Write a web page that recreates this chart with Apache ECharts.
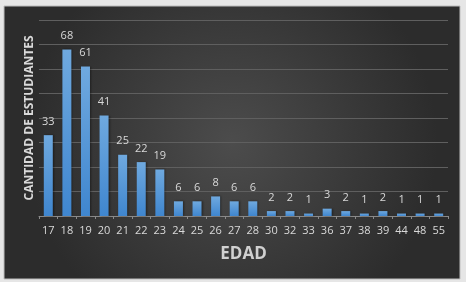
<!DOCTYPE html>
<html>
<head>
<meta charset="utf-8">
<script src="https://cdn.jsdelivr.net/npm/echarts@6/dist/echarts.min.js"></script>
<style>
  html, body { margin: 0; padding: 0; background: #e6e6e6; }
  #chart { width: 466px; height: 282px; }
</style>
</head>
<body>
<div id="chart"></div>
<script>
// edades y cantidad de estudiantes
const ages = ['17', '18', '19', '20', '21', '22', '23', '24', '25', '26', '27', '28', '30', '32', '33', '36', '37', '38', '39', '44', '48', '55']
const students = [33, 68, 61, 41, 25, 22, 19, 6, 6, 8, 6, 6, 2, 2, 1, 3, 2, 1, 2, 1, 1, 1]

const myChart = echarts.init(document.getElementById('chart'))

const option = {
  backgroundColor: '#e6e6e6',
  animation: false,
  graphic: [
    {
      type: 'rect',
      z: -10,
      shape: { x: 4, y: 6, width: 456, height: 273 },
      style: {
        fill: new echarts.graphic.RadialGradient(0.5, 0.5, 0.75, [
          { offset: 0, color: '#4c4c4c' },
          { offset: 1, color: '#2c2c2c' }
        ]),
        stroke: '#bdbdbd',
        lineWidth: 1
      }
    }
  ],
  grid: {
    left: 39,
    right: 18,
    top: 20,
    bottom: 66
  },
  xAxis: {
    type: 'category',
    data: ages,
    name: 'EDAD',
    nameLocation: 'middle',
    nameGap: 30,
    nameTextStyle: {
      color: '#d0d0d0',
      fontSize: 17,
      fontWeight: 'bold',
      fontFamily: 'Open Sans'
    },
    axisLine: { lineStyle: { color: '#8a8a8a', width: 1 } },
    axisTick: { show: true, length: 3, lineStyle: { color: '#8a8a8a' } },
    axisLabel: {
      color: '#d9d9d9',
      fontSize: 11,
      margin: 9,
      interval: 0,
      fontFamily: 'Open Sans'
    }
  },
  yAxis: {
    type: 'value',
    min: 0,
    max: 80,
    interval: 10,
    name: 'CANTIDAD DE ESTUDIANTES',
    nameLocation: 'middle',
    nameGap: 3,
    nameTextStyle: {
      color: '#d9d9d9',
      fontSize: 12,
      fontWeight: 'bold',
      fontFamily: 'Open Sans'
    },
    axisLabel: { show: false },
    axisLine: { show: false },
    axisTick: { show: false },
    splitLine: { lineStyle: { color: '#5f5f5f', width: 1 } }
  },
  series: [
    {
      type: 'bar',
      data: students,
      barWidth: 9,
      itemStyle: {
        color: new echarts.graphic.LinearGradient(0, 0, 0, 1, [
          { offset: 0, color: '#6fa9df' },
          { offset: 1, color: '#3f86cf' }
        ]),
        shadowColor: 'rgba(0,0,0,0.4)',
        shadowBlur: 2,
        shadowOffsetX: 1
      },
      label: {
        show: true,
        position: 'top',
        distance: 8,
        color: '#d9d9d9',
        fontSize: 11,
        fontFamily: 'Open Sans'
      }
    }
  ]
}

option && myChart.setOption(option)
</script>
</body>
</html>
